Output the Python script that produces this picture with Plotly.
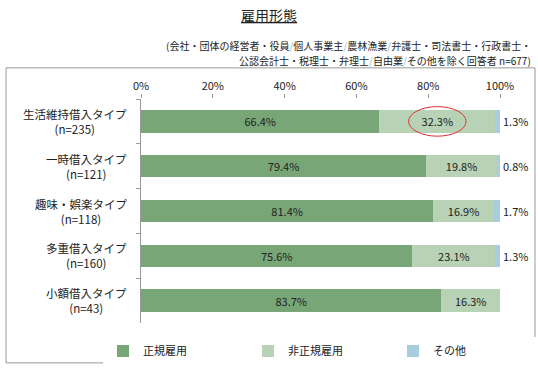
import plotly.graph_objects as go

categories = ["生活維持借入タイプ", "一時借入タイプ", "趣味・娯楽タイプ", "多重借入タイプ", "小額借入タイプ"]
counts = ["(n=235)", "(n=121)", "(n=118)", "(n=160)", "(n=43)"]
regular = [66.4, 79.4, 81.4, 75.6, 83.7]
nonregular = [32.3, 19.8, 16.9, 23.1, 16.3]
other = [1.3, 0.8, 1.7, 1.3, 0.0]
series_names = ["正規雇用", "非正規雇用", "その他"]
tick_vals = [0, 20, 40, 60, 80, 100]

FONT = "Noto Sans CJK JP"
colors = ["#78A677", "#B7D2B5", "#A8CDDF"]

fig = go.Figure()
for name, vals, col, show in zip(series_names, [regular, nonregular, other], colors, [True, True, False]):
    fig.add_trace(go.Bar(
        y=categories, x=vals, name=name, orientation="h",
        marker=dict(color=col, line=dict(width=0)),
        text=[f"{v:.1f}%" for v in vals] if show else None,
        textposition="inside", insidetextanchor="middle",
        textfont=dict(color="#222", size=11, family=FONT),
        hoverinfo="skip",
    ))

annotations = []
for c, v in zip(categories, other):
    if v > 0:
        annotations.append(dict(x=100, y=c, xref="x", yref="y", text=f"{v:.1f}%",
                                showarrow=False, xanchor="left", xshift=1,
                                font=dict(size=11, color="#222", family=FONT)))
for c, n in zip(categories, counts):
    annotations.append(dict(x=0, y=c, xref="paper", yref="y", text=f"{c}<br>{n}",
                            showarrow=False, xanchor="right", xshift=-12, align="center",
                            font=dict(size=11.5, color="#222", family=FONT)))
sl = "<span style='color:#9DB5CF'>/</span>"
annotations.append(dict(xref="paper", yref="paper", x=1.092, y=1.239, xanchor="right", yanchor="middle",
                        showarrow=False, align="right",
                        text=f"(会社・団体の経営者・役員{sl}個人事業主{sl}農林漁業{sl}弁護士・司法書士・行政書士・",
                        font=dict(size=10, color="#222", family=FONT)))
annotations.append(dict(xref="paper", yref="paper", x=1.092, y=1.170, xanchor="right", yanchor="middle",
                        showarrow=False, align="right",
                        text=f"公認会計士・税理士・弁理士{sl}自由業{sl}その他を除く回答者 n=677)",
                        font=dict(size=10, color="#222", family=FONT)))

cx = regular[0] + nonregular[0] / 2
shapes = [
    dict(type="circle", xref="x", yref="y", x0=cx - 8, x1=cx + 8, y0=-0.33, y1=0.33,
         line=dict(color="#E03030", width=1)),
    dict(type="rect", xref="paper", yref="paper", x0=-0.376, x1=1.0975, y0=-0.178, y1=1.139,
         line=dict(color="#999", width=1)),
]

fig.update_layout(
    width=538, height=378,
    margin=dict(l=141, r=38, t=99, b=49),
    paper_bgcolor="white", plot_bgcolor="white",
    barmode="stack", bargap=0.5,
    font=dict(family=FONT, size=11, color="#222"),
    title=dict(text="<span style='text-decoration:underline'>雇用形態</span>", x=0.5, xanchor="center",
               y=1 - 16 / 378, yanchor="middle", font=dict(size=14, family=FONT, color="#222")),
    xaxis=dict(side="top", range=[0, 100], tickvals=tick_vals, ticktext=[f"{t}%" for t in tick_vals],
               showgrid=False, zeroline=False, ticks="outside", ticklen=4, tickcolor="#999",
               showline=False, tickfont=dict(size=11)),
    yaxis=dict(type="category", autorange="reversed", showticklabels=False, ticks="outside",
               tickson="boundaries", ticklen=4, tickcolor="#999", showline=True, linecolor="#999",
               showgrid=False),
    legend=dict(orientation="h", x=-0.08, y=-0.125, xanchor="left", yanchor="middle",
                entrywidth=100, entrywidthmode="pixels", itemwidth=30, font=dict(size=11),
                traceorder="normal"),
    annotations=annotations, shapes=shapes,
)
fig.write_html("out.html", config={"displayModeBar": False},
               post_script="document.body.style.margin='0';document.body.style.overflow='hidden';")
